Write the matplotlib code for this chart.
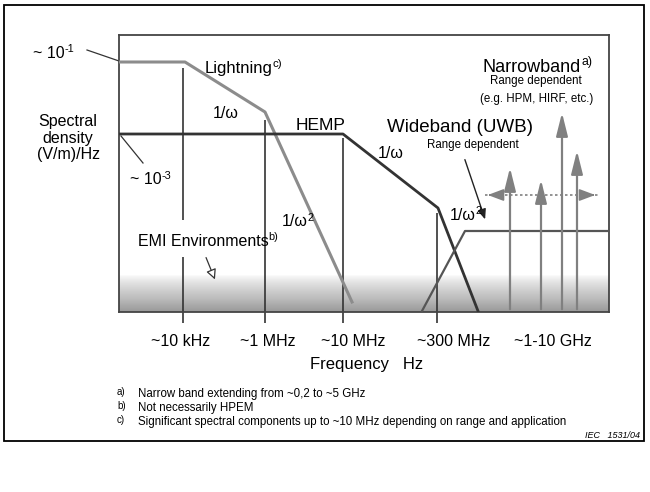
import numpy as np
import matplotlib
matplotlib.use('Agg')
import matplotlib.pyplot as plt
from matplotlib.patches import Rectangle

plt.rcParams['font.family'] = ['Liberation Sans', 'DejaVu Sans']

# --- schematic data (arbitrary units: x = frequency position, y = density level) ---
lightning_x = [0, 66, 146, 233]
lightning_y = [250, 250, 200, 10]
hemp_x = [0, 224, 319, 359]
hemp_y = [178, 178, 104, 1]
uwb_x = [303, 346, 489]
uwb_y = [1, 81, 81]
narrow_x = [391, 422, 443, 458]
narrow_top = [147, 135, 202, 164]
narrow_span = [366, 479]   # dotted double arrow
narrow_span_y = 117

freq_marks = [64, 146, 224, 318]
freq_mark_top = [244, 192, 174, 99]
freq_label_pos = [62, 149, 234, 335, 434]
freq_labels = ['~10 kHz', '~1 MHz', '~10 MHz', '~300 MHz', '~1-10 GHz']

footnotes = [('a)', 'Narrow band extending from ~0,2 to ~5 GHz'),
             ('b)', 'Not necessarily HPEM'),
             ('c)', 'Significant spectral components up to ~10 MHz depending on range and application')]

fig = plt.figure(figsize=(6.5, 4.92), dpi=100)
ax = fig.add_axes([119/650, (492-312)/492, 490/650, 277/492])
ax.set_xlim(0, 490)
ax.set_ylim(0, 277)
for s in ax.spines.values():
    s.set_color('#444444')
    s.set_linewidth(1.3)


def label(x, y, txt, sup=None, size=11.5, **kw):
    t = ax.text(x, y, txt, fontsize=size, va='center', clip_on=False, **kw)
    if sup:
        ax.annotate(sup, xy=(1.0, 0.78), xycoords=t, fontsize=size * 0.68,
                    ha='left', va='center', annotation_clip=False)
    return t


# EMI background shading
grad = np.linspace(0, 1, 64).reshape(-1, 1) ** 0.6
ax.imshow(grad, extent=[0, 490, 0, 37], aspect='auto', cmap='Greys',
          vmin=-0.05, vmax=2.1, zorder=0, origin='upper')

# vertical frequency markers (extend below the box)
for x, top in zip(freq_marks, freq_mark_top):
    if x == 64:
        ax.vlines(x, 92, top, color='#333333', lw=1.2, clip_on=False)
        ax.vlines(x, -11, 55, color='#333333', lw=1.2, clip_on=False)
    else:
        ax.vlines(x, -11, top, color='#333333', lw=1.2, clip_on=False)

ax.plot(lightning_x, lightning_y, color='#8c8c8c', lw=2.2, zorder=3)
ax.plot(hemp_x, hemp_y, color='#333333', lw=2.0, zorder=3)
ax.plot(uwb_x, uwb_y, color='#555555', lw=1.6, zorder=3)

# narrowband arrows
for x, top in zip(narrow_x, narrow_top):
    ax.annotate('', xy=(x, top), xytext=(x, 0),
                arrowprops=dict(arrowstyle='-|>,head_length=1.0,head_width=0.25',
                                color='#808080', lw=1.6, mutation_scale=14))
ax.plot(narrow_span, [narrow_span_y] * 2, color='#808080', lw=1.2, ls=(0, (1.5, 1.5)))
ax.annotate('', xy=(narrow_span[0], narrow_span_y), xytext=(narrow_span[0] + 10, narrow_span_y),
            arrowprops=dict(arrowstyle='-|>,head_length=0.8,head_width=0.3',
                            color='#808080', lw=1.2, mutation_scale=12))
ax.annotate('', xy=(narrow_span[1], narrow_span_y), xytext=(narrow_span[1] - 10, narrow_span_y),
            arrowprops=dict(arrowstyle='-|>,head_length=0.8,head_width=0.3',
                            color='#808080', lw=1.2, mutation_scale=12))

ax.set_xticks(freq_label_pos, freq_labels, fontsize=11.5)
ax.set_yticks([])
ax.tick_params(axis='x', length=0, pad=16)

# labels and leaders
label(-86, 259, '~ 10', '-1')
ax.plot([-32, 0], [262, 251], color='#333333', lw=0.9, clip_on=False)
ax.text(-51, 174, 'Spectral\ndensity\n(V/m)/Hz', fontsize=11.5, ha='center', va='center',
        linespacing=1.15, clip_on=False)
ax.plot([2, 24], [176, 149], color='#333333', lw=0.9)
label(11, 132, '~ 10', '-3')
label(86, 244, 'Lightning', 'c)', size=12)
label(94, 199, '1/ω')
label(177, 187, 'HEMP', size=12.5)
label(259, 159, '1/ω')
label(163, 90, '1/ω', '2')
label(268, 185, 'Wideband (UWB)', size=13.5)
ax.text(354, 167, 'Range dependent', fontsize=8.3, ha='center', va='center')
ax.annotate('', xy=(367, 90), xytext=(345, 155),
            arrowprops=dict(arrowstyle='-|>,head_length=0.6,head_width=0.25',
                            color='#222222', lw=1.0, mutation_scale=10))
label(331, 97, '1/ω', '2')
label(364, 245, 'Narrowband', 'a)', size=13)
ax.text(417, 231, 'Range dependent', fontsize=8.3, ha='center', va='center')
ax.text(418, 213, '(e.g. HPM, HIRF, etc.)', fontsize=8.3, ha='center', va='center')
label(19, 71, 'EMI Environments', 'b)', size=11.5)
ax.annotate('', xy=(97, 30), xytext=(86, 57),
            arrowprops=dict(arrowstyle='-|>,head_length=0.6,head_width=0.3',
                            fc='white', ec='#333333', lw=0.9, mutation_scale=10))
label(191, -52, 'Frequency   Hz', size=12)

for i, (tag, txt) in enumerate(footnotes):
    yy = -82 - 14 * i
    ax.text(-2, yy + 2, tag, fontsize=7, va='center', clip_on=False)
    ax.text(19, yy, txt, fontsize=8.3, va='center', clip_on=False)
ax.text(521, -124, 'IEC   1531/04', fontsize=6.5, style='italic', ha='right', va='center',
        clip_on=False)

fig.patches.append(Rectangle((4/650, (492-441)/492), 640/650, 436/492, fill=False,
                             ec='black', lw=1.3, transform=fig.transFigure))

fig.savefig('out.png', dpi=100)
